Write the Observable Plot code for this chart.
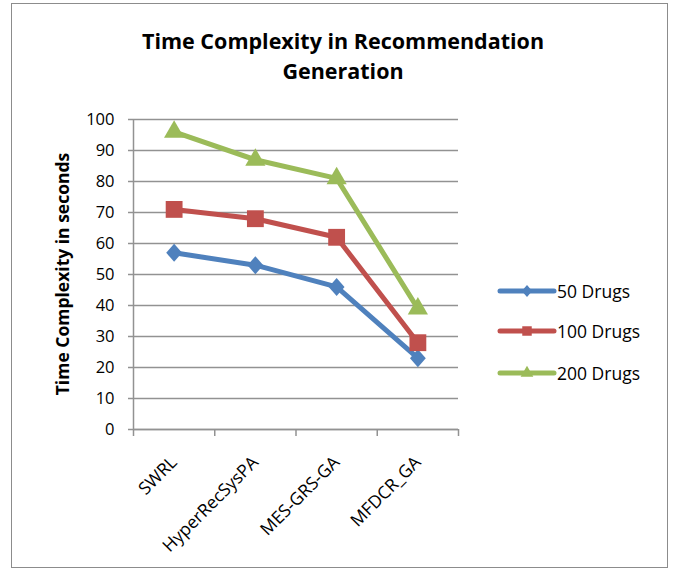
<!DOCTYPE html>
<html><head><meta charset="utf-8">
<script src="https://cdn.jsdelivr.net/npm/d3@7"></script>
<script src="https://cdn.jsdelivr.net/npm/@observablehq/plot@0.6"></script>
<style>
body{margin:0;background:#fff;font-family:"Open Sans",Lato,sans-serif;color:#000;}
#wrap{position:relative;width:674px;height:573px;overflow:hidden;}
#frame{position:absolute;left:11px;top:3px;width:657px;height:565px;border:1px solid #8c8c8c;box-sizing:border-box;}
#title{position:absolute;left:11px;width:664px;top:26px;text-align:center;font-weight:bold;font-size:21.5px;line-height:30px;}
#ylab{position:absolute;left:62px;top:274px;transform:translate(-50%,-50%) rotate(-90deg);white-space:nowrap;font-weight:bold;font-size:17.5px;}
#chart{position:absolute;left:0;top:0;}
.leg{position:absolute;left:497px;height:20px;display:flex;align-items:center;font-size:17.5px;white-space:nowrap;}
.leg svg{margin-right:0px;}
</style></head>
<body><div id="wrap"><div id="frame"></div><div id="chart"></div>
<div id="title">Time Complexity in Recommendation<br>Generation</div>
<div id="ylab">Time Complexity in seconds</div>
<div id="legend"></div>
</div>
<script>
const categories = ["SWRL","HyperRecSysPA","MES-GRS-GA","MFDCR_GA"];
const seriesNames = ["50 Drugs","100 Drugs","200 Drugs"];
const drugs50 = [57,53,46,23];
const drugs100 = [71,68,62,28];
const drugs200 = [96,87,81,39];
const yTicks = [0,10,20,30,40,50,60,70,80,90,100];
const colors = ["#4F81BD","#C0504D","#9BBB59"];

const squareDiamond = {
  draw(ctx, size) {
    const r = Math.sqrt(size / Math.PI);
    const w = r * 1.1, h = r * 1.25;
    ctx.moveTo(0, -h); ctx.lineTo(w, 0); ctx.lineTo(0, h); ctx.lineTo(-w, 0); ctx.closePath();
  }
};
const symbols = [squareDiamond, d3.symbolSquare, d3.symbolTriangle];
const radii = [7.2, 9.5, 7.5];

const seriesValues = [drugs50, drugs100, drugs200];
const data = [];
seriesValues.forEach((vals, s) => vals.forEach((v, i) => data.push({series: seriesNames[s], idx: i, cat: categories[i], value: v})));
const edges = categories.map((c,i)=>i-0.5).concat([categories.length-0.5]);
const grid = "#929292";
const font = "'Open Sans', Lato, sans-serif";

const marks = [
  Plot.gridY(yTicks, {stroke: grid, strokeOpacity: 1, strokeWidth: 1.5}),
  Plot.axisY({ticks: yTicks, tickSize: 5, tickPadding: 14, stroke: grid, strokeWidth: 1.5, fill: "#000", fontSize: 16.5, label: null}),
  Plot.ruleX([edges[0]], {y1: 0, y2: 100, stroke: grid, strokeWidth: 1.5}),
  Plot.ruleY([0], {stroke: grid, strokeWidth: 1.5}),
  Plot.axisX({ticks: edges, tickSize: 7, tickFormat: () => "", stroke: grid, strokeWidth: 1.5, label: null}),
  Plot.axisX({ticks: d3.range(categories.length), tickFormat: i => categories[i], tickSize: 0, tickRotate: -45, tickPadding: 30, fontSize: 17.5, fill: "#000", label: null})
];
seriesNames.forEach((name, s) => {
  const d = data.filter(r => r.series === name);
  marks.push(Plot.line(d, {x: "idx", y: "value", stroke: colors[s], strokeWidth: 5}));
  marks.push(Plot.dot(d, {x: "idx", y: "value", symbol: symbols[s], r: radii[s], fill: colors[s], stroke: "none"}));
});

const chart = Plot.plot({
  width: 674, height: 573,
  marginLeft: 133, marginRight: 216, marginTop: 119, marginBottom: 144,
  style: {fontFamily: font, background: "transparent", overflow: "visible"},
  x: {type: "linear", domain: [-0.5, categories.length - 0.5]},
  y: {domain: [0, 100]},
  marks
});
document.getElementById("chart").appendChild(chart);

const legend = document.getElementById("legend");
const legY = [291, 331, 373];
seriesNames.forEach((name, s) => {
  const div = document.createElement("div");
  div.className = "leg";
  div.style.top = (legY[s] - 10) + "px";
  const sym = d3.symbol(symbols[s], s === 1 ? 90 : 70)();
  div.innerHTML = `<svg width="60" height="20"><line x1="3" x2="57" y1="10" y2="10" stroke="${colors[s]}" stroke-width="5" stroke-linecap="round"/><path d="${sym}" transform="translate(30,10)" fill="${colors[s]}"/></svg><span>${name}</span>`;
  legend.appendChild(div);
});
</script></body></html>
